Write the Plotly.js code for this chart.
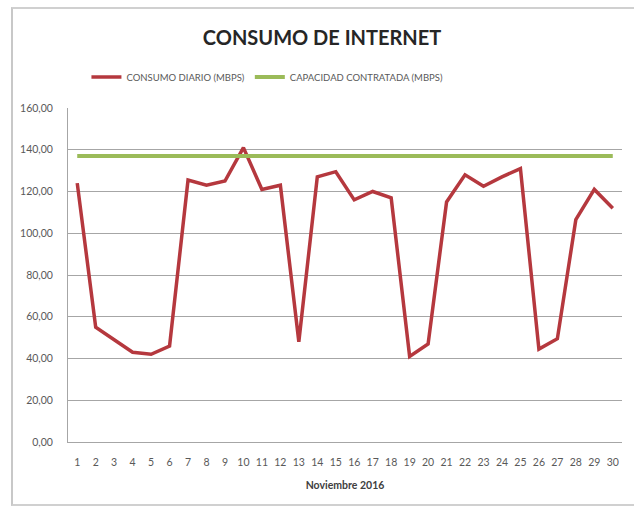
<!DOCTYPE html>
<html><head><meta charset="utf-8">
<script src="https://cdn.plot.ly/plotly-3.0.1.min.js"></script>
<style>
html,body{margin:0;padding:0;background:#fff;}
#chart{position:absolute;left:0;top:0;width:634px;height:506px;}
#frame{position:absolute;left:11px;top:7px;width:626px;height:495px;border-left:2px solid #c8c8c8;border-top:2px solid #d0d0d0;border-bottom:2px solid #d0d0d0;pointer-events:none;}
</style></head>
<body>
<div id="chart"></div>
<div id="frame"></div>
<script>
const days = [1,2,3,4,5,6,7,8,9,10,11,12,13,14,15,16,17,18,19,20,21,22,23,24,25,26,27,28,29,30];
const consumoDiario = [124,55,49,43,42,46,125.5,123,125,141,121,123,48,127,129.5,116,120,117,41,47,115,128,122.5,127,131,44.5,49.5,106.5,121,112];
const capacidadContratada = [137,137,137,137,137,137,137,137,137,137,137,137,137,137,137,137,137,137,137,137,137,137,137,137,137,137,137,137,137,137];
const yTicks = [0,20,40,60,80,100,120,140,160];

const font = 'Lato, "Open Sans", sans-serif';
const traces = [
  {x: days, y: consumoDiario, type:'scatter', mode:'lines', name:'CONSUMO DIARIO (MBPS)',
   line:{color:'#b5383e', width:3.5}},
  {x: days, y: capacidadContratada, type:'scatter', mode:'lines', name:'CAPACIDAD CONTRATADA (MBPS)',
   line:{color:'#9bbb59', width:4}}
];
const layout = {
  width:634, height:506,
  separators: ',.',
  paper_bgcolor:'rgba(0,0,0,0)', plot_bgcolor:'#fff',
  margin:{l:68, r:12, t:108, b:64},
  font:{family:font, color:'#595959', size:10},
  title:{text:'<b>CONSUMO DE INTERNET</b>', x:0.508, xanchor:'center', y:0.925, yanchor:'middle',
         font:{family:font, size:20, color:'#262626'}},
  showlegend:true,
  legend:{orientation:'h', x:0.36, xanchor:'center', y:1.093, yanchor:'middle',
          font:{family:font, size:9.5, color:'#595959'}, itemwidth:30, tracegroupgap:0},
  xaxis:{range:[0.5,30.5], tickmode:'array', tickvals:days, ticktext:days.map(String),
         showgrid:false, zeroline:false, showline:true, linecolor:'#a6a6a6', linewidth:1,
         ticks:'', ticklabelstandoff:10, tickfont:{size:10.5, color:'#595959'},
         title:{text:'<b>Noviembre 2016</b>', font:{size:10.5, color:'#404040'}, standoff:15}},
  yaxis:{range:[0,160], tickmode:'array', tickvals:yTicks, tickformat:'.2f',
         showgrid:true, gridcolor:'#a6a6a6', gridwidth:1, zeroline:false,
         showline:true, linecolor:'#a6a6a6', ticks:'', ticklen:0, ticklabelstandoff:12,
         tickfont:{size:10.5, color:'#595959'}}
};
Plotly.newPlot('chart', traces, layout, {displayModeBar:false, staticPlot:true});
</script>
</body></html>
